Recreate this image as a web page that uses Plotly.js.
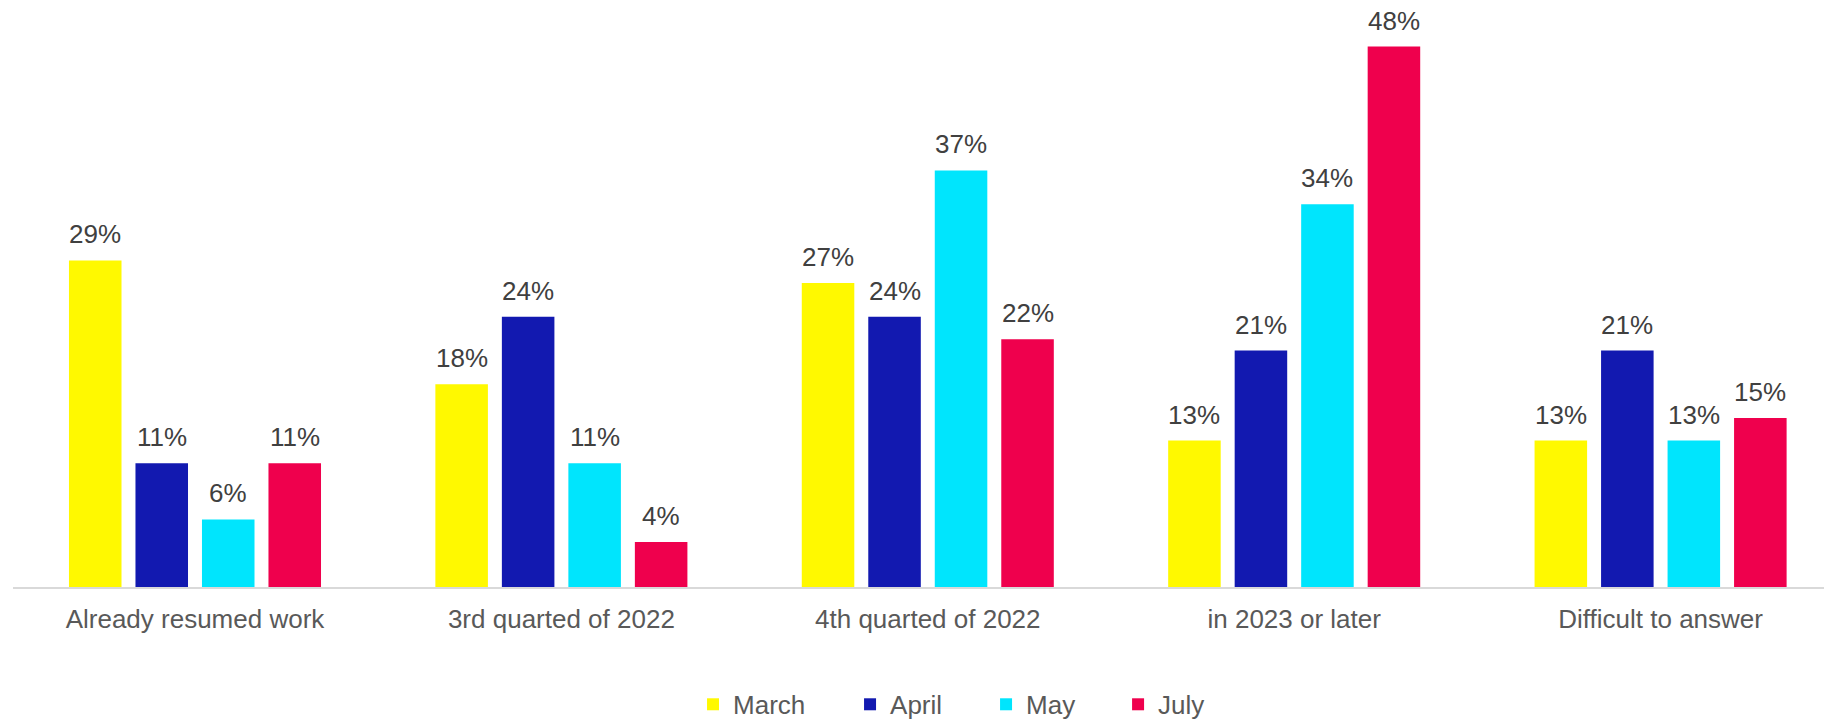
<!DOCTYPE html>
<html>
<head>
<meta charset="utf-8">
<script src="https://cdn.plot.ly/plotly-3.0.1.min.js"></script>
<style>html,body{margin:0;padding:0;background:#fff;}#chart{width:1824px;height:721px;}</style>
</head>
<body>
<div id="chart"></div>
<script>
const categories = ["Already resumed work", "3rd quarted of 2022", "4th quarted of 2022", "in 2023 or later", "Difficult to answer"];
const seriesNames = ["March", "April", "May", "July"];
const march = [29, 18, 27, 13, 13];
const april = [11, 24, 24, 21, 21];
const may = [6, 11, 37, 34, 13];
const july = [11, 4, 22, 48, 15];
const seriesValues = [march, april, may, july];
const seriesColors = ["#FFF900", "#1219B0", "#00E5FD", "#EF004D"];

const BARGAP = 0.274;
const nSeries = seriesValues.length;
const legendIds = ["legend", "legend2", "legend3", "legend4"];
const legendX = [0.3755, 0.4622, 0.5373, 0.6102];

const traces = seriesValues.map((vals, i) => ({
  type: "bar",
  name: seriesNames[i],
  x: categories,
  y: vals,
  legend: legendIds[i],
  marker: {color: seriesColors[i]},
  hoverinfo: "skip"
}));

// data labels placed through the axes: category index + group slot offset, value on y
const annotations = [];
seriesValues.forEach((vals, i) => {
  const slot = (1 - BARGAP) / nSeries;
  const off = (i - (nSeries - 1) / 2) * slot;
  vals.forEach((v, j) => {
    annotations.push({
      xref: "x", yref: "y",
      x: j + off, y: v,
      text: v + "%",
      showarrow: false,
      xanchor: "center", yanchor: "bottom",
      yshift: 9,
      font: {family: "Liberation Sans, Arial, sans-serif", size: 26, color: "#404040"}
    });
  });
});

const layout = {
  width: 1824,
  height: 721,
  margin: {l: 13, r: 0, t: 23.5, b: 134, autoexpand: false},
  paper_bgcolor: "#fff",
  plot_bgcolor: "#fff",
  barmode: "group",
  bargap: BARGAP,
  bargroupgap: 0.21,
  showlegend: true,
  font: {family: "Liberation Sans, Arial, sans-serif", color: "#595959"},
  annotations: annotations,
  xaxis: {
    type: "category",
    range: [-0.4967, 4.446],
    showline: true,
    linecolor: "#D9D9D9",
    linewidth: 2,
    ticks: "",
    showgrid: false,
    zeroline: false,
    tickfont: {size: 26, color: "#595959"},
    ticklabelstandoff: 8
  },
  yaxis: {
    range: [0, 50],
    visible: false,
    showgrid: false,
    zeroline: false
  }
};

legendIds.forEach((id, i) => {
  layout[id] = {
    orientation: "h",
    x: legendX[i],
    xanchor: "left",
    y: -0.2085,
    yanchor: "middle",
    font: {size: 26, color: "#595959"},
    bgcolor: "rgba(0,0,0,0)"
  };
});

Plotly.newPlot("chart", traces, layout, {displayModeBar: false, staticPlot: true});
</script>
</body>
</html>
